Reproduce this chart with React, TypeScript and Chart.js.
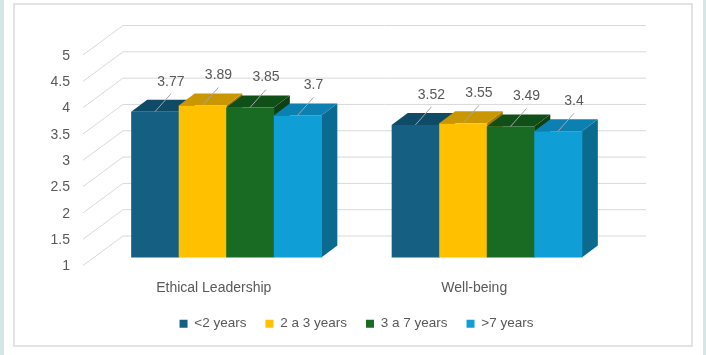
import React, { useEffect, useRef } from "react";
import { Chart, registerables } from "chart.js";

Chart.register(...registerables);

const categories = ["Ethical Leadership", "Well-being"];
const seriesNames = ["<2 years", "2 a 3 years", "3 a 7 years", ">7 years"];
const lessThan2Years = [3.77, 3.52];
const from2To3Years = [3.89, 3.55];
const from3To7Years = [3.85, 3.49];
const moreThan7Years = [3.7, 3.4];
const yTickValues = [1, 1.5, 2, 2.5, 3, 3.5, 4, 4.5, 5];

const frontColors = ["#156082", "#FFC000", "#196B24", "#0F9ED5"];
const topColors = ["#0f4a66", "#c99700", "#114f19", "#0c80b0"];
const sideColors = ["#0c3d55", "#a37a00", "#0e4014", "#0a6a8f"];

const FONT = "'Liberation Sans', Arial, sans-serif";
const TEXT = "#595959";
const GRID = "#d9d9d9";

// oblique depth of the bars
const DEPTH_X = 16;
const DEPTH_Y = -12;

const threeD = {
  id: "threeD",
  beforeDatasetsDraw(chart: any) {
    const { ctx, chartArea } = chart;
    const yScale = chart.scales.y;
    const floor = yScale.getPixelForValue(yTickValues[0]);
    // walls / gridlines
    ctx.save();
    ctx.strokeStyle = GRID;
    ctx.lineWidth = 1;
    for (const v of yTickValues) {
      const py = yScale.getPixelForValue(v);
      const fx = chartArea.left - 13;
      const fy = py + 8;
      const bx = chartArea.left + 27;
      const by = py - 21.5;
      ctx.beginPath();
      ctx.moveTo(fx, fy);
      ctx.lineTo(bx, by);
      ctx.lineTo(chartArea.right + 29, by);
      ctx.stroke();
    }
    ctx.restore();

    // bars, drawn left to right
    const n = chart.data.labels.length;
    const dsCount = chart.data.datasets.length;
    const bars: any[] = [];
    for (let j = 0; j < n; j++) {
      for (let i = 0; i < dsCount; i++) {
        const el = chart.getDatasetMeta(i).data[j];
        const p = el.getProps(["x", "y", "base", "width"], true);
        bars.push({ i, j, x: p.x, y: p.y, base: Math.min(p.base, floor), width: p.width });
      }
    }
    ctx.save();
    for (const b of bars) {
      const x0 = b.x - b.width / 2;
      const x1 = b.x + b.width / 2;
      const yt = b.y;
      const yb = b.base;
      // side face
      ctx.fillStyle = sideColors[b.i];
      ctx.beginPath();
      ctx.moveTo(x1, yb);
      ctx.lineTo(x1 + DEPTH_X, yb + DEPTH_Y);
      ctx.lineTo(x1 + DEPTH_X, yt + DEPTH_Y);
      ctx.lineTo(x1, yt);
      ctx.closePath();
      ctx.fill();
      // top face
      ctx.fillStyle = topColors[b.i];
      ctx.beginPath();
      ctx.moveTo(x0, yt);
      ctx.lineTo(x1, yt);
      ctx.lineTo(x1 + DEPTH_X, yt + DEPTH_Y);
      ctx.lineTo(x0 + DEPTH_X, yt + DEPTH_Y);
      ctx.closePath();
      ctx.fill();
      // front face
      ctx.fillStyle = frontColors[b.i];
      ctx.fillRect(x0, yt, x1 - x0 + 0.5, yb - yt);
    }
    // data labels with leader lines
    ctx.font = `14px ${FONT}`;
    ctx.textAlign = "center";
    ctx.textBaseline = "middle";
    for (const b of bars) {
      const val = chart.data.datasets[b.i].data[b.j];
      const lx = b.x + 16;
      const ly = b.y - 30;
      ctx.strokeStyle = "#a6a6a6";
      ctx.lineWidth = 1;
      ctx.beginPath();
      ctx.moveTo(lx, ly + 12);
      ctx.lineTo(b.x, b.y);
      ctx.stroke();
      ctx.fillStyle = TEXT;
      ctx.fillText(String(val), lx, ly);
    }
    ctx.restore();
    return false;
  },
};

export default function App() {
  const ref = useRef<HTMLCanvasElement | null>(null);
  useEffect(() => {
    if (!ref.current) return;
    Chart.defaults.font.family = FONT;
    const seriesValues = [lessThan2Years, from2To3Years, from3To7Years, moreThan7Years];
    const chart = new Chart(ref.current, {
      type: "bar",
      data: {
        labels: categories,
        datasets: seriesNames.map((name, i) => ({
          label: name,
          data: seriesValues[i],
          backgroundColor: frontColors[i],
          borderWidth: 0,
          barPercentage: 1,
          categoryPercentage: 0.73,
        })),
      },
      options: {
        responsive: false,
        animation: false,
        layout: { padding: { top: 47, right: 89, bottom: 14.5, left: 0 } },
        scales: {
          x: {
            grid: { display: false, drawTicks: false },
            border: { display: false },
            ticks: {
              padding: 22,
              labelOffset: -12.5,
              color: TEXT,
              font: { size: 14, family: FONT },
            },
            afterFit: (s: any) => {
              s.height = 40.5;
            },
          },
          y: {
            min: 1,
            max: 5,
            grid: { display: false, drawTicks: false },
            border: { display: false },
            afterBuildTicks: (s: any) => {
              s.ticks = yTickValues.map((v) => ({ value: v }));
            },
            ticks: {
              padding: 26,
              labelOffset: 9,
              color: TEXT,
              font: { size: 14, family: FONT },
              callback: (v: any) => String(v),
            },
            afterFit: (s: any) => {
              s.width = 96;
            },
          },
        },
        plugins: {
          legend: {
            position: "bottom",
            fullSize: false,
            labels: {
              boxWidth: 8,
              boxHeight: 8,
              padding: 19,
              color: TEXT,
              font: { size: 13.5, family: FONT },
            },
          },
          tooltip: { enabled: false },
        },
      },
      plugins: [threeD],
    } as any);
    return () => chart.destroy();
  }, []);

  return (
    <div style={{ position: "fixed", left: 0, top: 0, width: 706, height: 355, background: "#d4e6e5" }}>
      <div style={{ position: "absolute", left: 4, top: 0, width: 699, height: 355, background: "#ffffff" }} />
      <div
        style={{
          position: "absolute",
          left: 13,
          top: 3,
          width: 680,
          height: 344,
          boxSizing: "border-box",
          border: "2px solid #e3e3e3",
        }}
      />
      <canvas
        ref={ref}
        width={706}
        height={355}
        style={{ position: "absolute", left: 0, top: 0, width: 706, height: 355, display: "block" }}
      />
    </div>
  );
}
